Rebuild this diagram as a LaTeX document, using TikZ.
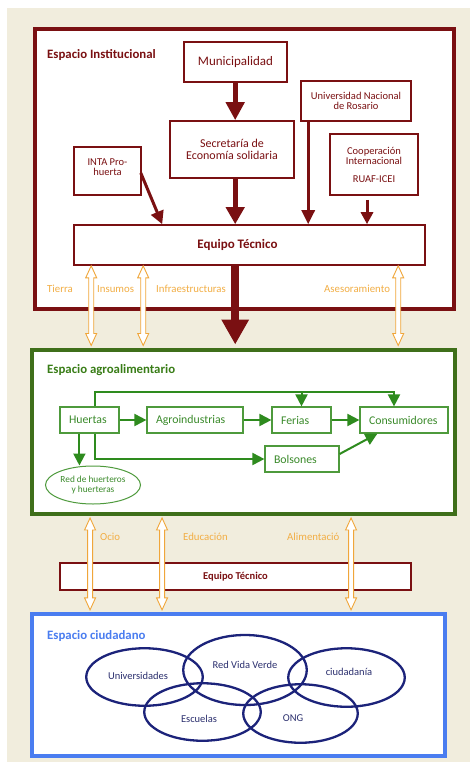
\documentclass[tikz,border=0pt]{standalone}
\usepackage{fontspec}
\setmainfont{Carlito}
\usetikzlibrary{arrows.meta,shapes.geometric,calc}
\definecolor{bg}{HTML}{F1EDDD}
\definecolor{maroon}{HTML}{7A1012}
\definecolor{orng}{HTML}{F0A63A}
\definecolor{otext}{HTML}{F2AE45}
\definecolor{gdark}{HTML}{3F6F1A}
\definecolor{gbox}{HTML}{4E9A3C}
\definecolor{gtext}{HTML}{3A8A2A}
\definecolor{garrow}{HTML}{2E8B1E}
\definecolor{blu}{HTML}{4A7DF0}
\definecolor{navy}{HTML}{1C237A}
\definecolor{navytext}{HTML}{2B2F6E}
\newcommand\fs[1]{\fontsize{#1}{#1}\selectfont}
\newcommand\dblarr[2]{\draw[oarr] let \p1=(#1), \p2=(#2) in
  (\x1,\y1) -- (\x1+5.5pt,\y1-12pt) -- (\x1+2.5pt,\y1-12pt) -- (\x1+2.5pt,\y2+12pt)
  -- (\x1+5.5pt,\y2+12pt) -- (\x1,\y2) -- (\x1-5.5pt,\y2+12pt) -- (\x1-2.5pt,\y2+12pt)
  -- (\x1-2.5pt,\y1-12pt) -- (\x1-5.5pt,\y1-12pt) -- cycle;}
\begin{document}
\begin{tikzpicture}[x=1pt,y=-1pt,
  frame/.style={draw=#1, line width=4pt, fill=white, inner sep=0pt},
  rbox/.style={draw=maroon, line width=1.6pt, fill=white, text=maroon, align=center, inner sep=0pt, font=\fs{11}},
  gbx/.style={draw=gbox, line width=1.2pt, fill=white, text=gtext, align=left, inner ysep=0pt, inner xsep=9pt, font=\fs{11.8}},
  ttl/.style={anchor=west, inner sep=0pt, font=\bfseries\fs{12.8}},
  olab/.style={anchor=west, inner sep=0pt, text=otext, font=\fs{10.8}},
  oarr/.style={draw=orng, line width=0.9pt, fill=white},
  rarr/.style={draw=maroon, line width=#1},
  garr/.style={draw=garrow, line width=2pt, -{Triangle[width=12pt,length=12pt]}},
  ell/.style={draw=navy, line width=2.3pt, ellipse, inner sep=0pt},
  etext/.style={text=navytext, font=\fs{10.5}}
]
\useasboundingbox (0,0) rectangle (470,762);
\fill[bg] (7,8) rectangle (470,762);

% Institutional space
\node[frame=maroon, minimum width=418.4pt, minimum height=279.4pt] (inst) at (244.5,169) {};
\node[ttl, text=maroon] (instT) at (47,55) {Espacio Institucional};
\node[rbox, minimum width=103pt, minimum height=40pt, font=\fs{13}] (muni) at (235.5,62) {Municipalidad};
\node[rbox, minimum width=124pt, minimum height=57pt, font=\fs{12}] (secr) at (232,149.5) {Secretaría de\\Economía solidaria};
\node[rbox, minimum width=110pt, minimum height=40pt, font=\fs{10.5}] (univ) at (356,101) {Universidad Nacional\\de Rosario};
\node[rbox, minimum width=88pt, minimum height=61pt, font=\fs{10.5}] (coop) at (374,164.5) {Cooperación\\Internacional\\[7pt]RUAF-ICEI};
\node[rbox, minimum width=67pt, minimum height=48pt, font=\fs{10.5}] (inta) at (107.5,171) {INTA Pro-\\huerta\\[-3pt]\mbox{}};
\node[rbox, minimum width=351pt, minimum height=40pt, font=\bfseries\fs{13}] (eq) at (249.5,245) {Equipo Técnico\hspace{24pt}};

\coordinate (ax) at ($(eq.north west)+(162,0)$);
\draw[rarr=5pt, -{Triangle[width=18pt,length=18pt]}] (muni.south -| ax) -- (secr.north -| ax);
\draw[rarr=5pt, -{Triangle[width=18pt,length=17pt]}] (secr.south -| ax) -- (eq.north -| ax);
\coordinate (ux) at ($(univ.south west)+(8,0)$);
\draw[rarr=3pt, -{Triangle[width=13pt,length=14pt]}] (ux) -- (ux |- eq.north);
\coordinate (cx) at ($(coop.south)+(-7,4)$);
\draw[rarr=3pt, -{Triangle[width=12pt,length=12pt]}] (cx) -- (cx |- eq.north);
\coordinate (ie) at ($(eq.north west)+(89,0)$);
\draw[rarr=3pt, -{Triangle[width=13pt,length=13pt]}] ($(inta.east)+(-1,2)$) -- (ie);

% Agro-food space
\node[frame=gdark, minimum width=422.7pt, minimum height=164.5pt] (agro) at (243.7,431.75) {};
\node[ttl, text=gdark!90!green] (agroT) at (47,370) {Espacio agroalimentario};

\coordinate (bx) at ($(eq.south west)+(162,0)$);
\draw[rarr=8pt, -{Triangle[width=26pt,length=25pt]}] (bx) -- ($(bx |- agro.north)+(0,-3)$);

% orange arrows top
\coordinate (o1) at ($(eq.south west)+(18,0)$);
\coordinate (o2) at ($(eq.south west)+(70,0)$);
\coordinate (o3) at ($(eq.south west)+(325,0)$);
\dblarr{o1}{$(o1 |- agro.north)+(0,-2)$}
\dblarr{o2}{$(o2 |- agro.north)+(0,-2)$}
\dblarr{o3}{$(o3 |- agro.north)+(0,-2)$}
\node[olab] (l1) at (47,289) {Tierra};
\node[olab] (l2) at (97,289) {Insumos};
\node[olab] (l3) at (156,289) {Infraestructuras};
\node[olab] (l4) at (324,289) {Asesoramiento};

\node[gbx, text width=41pt, minimum height=26pt] (huer) at (89.5,420) {Huertas};
\node[gbx, text width=78pt, minimum height=26pt] (agin) at (195,420) {Agroindustrias};
\node[gbx, text width=41pt, minimum height=26pt] (feri) at (301.5,420) {Ferias};
\node[gbx, text width=70pt, minimum height=26pt] (cons) at (404,420) {Consumidores};
\node[gbx, text width=56pt, minimum height=26pt] (bols) at (302,459) {Bolsones};
\node[gbx, ellipse, align=center, inner xsep=0pt, minimum width=95pt, minimum height=38pt, font=\fs{9.3}, line width=1pt] (red) at (93,485) {Red de huerteros\\y huerteras};

\draw[garr] (huer.east) -- (agin.west);
\draw[garr] (agin.east) -- (feri.west);
\draw[garr] (feri.east) -- (cons.west);
\coordinate (ht) at ($(huer.north west)+(36,0)$);
\coordinate (tp) at ($(ht)+(0,-14)$);
\coordinate (ct) at ($(cons.north)+(-10,0)$);
\draw[garr] (ht) -- (tp) -| (ct);
\draw[garr] (feri.north |- tp) -- (feri.north);
\coordinate (hb) at ($(huer.south west)+(36,0)$);
\draw[garr] (hb) |- (bols.west);
\coordinate (hr) at ($(huer.south west)+(20,0)$);
\draw[garr] (hr) -- (hr |- red.north);
\draw[garr] ($(bols.east)+(0,-5)$) -- ($(cons.south west)+(18,0)$);

% citizen space
\node[frame=blu, minimum width=413pt, minimum height=142.3pt] (ciud) at (238.5,685) {};
\node[ttl, text=blu] (ciudT) at (47,636) {Espacio ciudadano};

\node[rbox, minimum width=351pt, minimum height=27pt, font=\bfseries\fs{10.5}] (eq2) at (235.5,576.5) {Equipo Técnico};
\coordinate (p1) at ($(agro.south west)+(59.7,2)$);
\coordinate (p2) at ($(agro.south west)+(131.7,2)$);
\coordinate (p3) at ($(agro.south west)+(320.7,2)$);
\dblarr{p1}{$(p1 |- ciud.north)+(0,-2)$}
\dblarr{p2}{$(p2 |- ciud.north)+(0,-2)$}
\dblarr{p3}{$(p3 |- ciud.north)+(0,-2)$}
\node[olab] (m1) at (100,537) {Ocio};
\node[olab] (m2) at (183,537) {Educación};
\node[olab] (m3) at (287,537) {Alimentació};

\node[ell, minimum width=116.5pt, minimum height=57.5pt] (e1) at (144.5,677) {};
\node[ell, minimum width=123.5pt, minimum height=70pt] (e2) at (245,670) {};
\node[ell, minimum width=116.5pt, minimum height=58.5pt] (e3) at (346.5,677.5) {};
\node[ell, minimum width=116.5pt, minimum height=57.5pt] (e4) at (202.5,712) {};
\node[ell, minimum width=114.5pt, minimum height=58.5pt] (e5) at (300.5,713.5) {};
\node[etext] (t1) at (138,676) {Universidades};
\node[etext] (t2) at (245,665) {Red Vida Verde};
\node[etext] (t3) at (349,672) {ciudadanía};
\node[etext] (t4) at (199,719) {Escuelas};
\node[etext] (t5) at (293,718) {ONG};
\end{tikzpicture}
\end{document}
